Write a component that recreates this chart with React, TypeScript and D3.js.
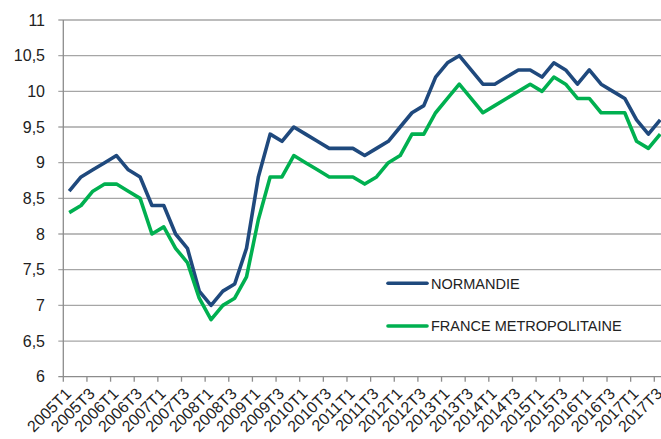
import * as d3 from "d3";

const quarters: string[] = [];
for (let year = 2005; year <= 2017; year++) {
  for (let q = 1; q <= 4; q++) {
    if (year === 2017 && q > 3) break;
    quarters.push(`${year}T${q}`);
  }
}

const normandie = [
  8.6, 8.8, 8.9, 9.0, 9.1, 8.9, 8.8, 8.4, 8.4, 8.0, 7.8, 7.2, 7.0, 7.2, 7.3, 7.8,
  8.8, 9.4, 9.3, 9.5, 9.4, 9.3, 9.2, 9.2, 9.2, 9.1, 9.2, 9.3, 9.5, 9.7, 9.8, 10.2,
  10.4, 10.5, 10.3, 10.1, 10.1, 10.2, 10.3, 10.3, 10.2, 10.4, 10.3, 10.1, 10.3, 10.1, 10.0, 9.9,
  9.6, 9.4, 9.6
];

const franceMetro = [
  8.3, 8.4, 8.6, 8.7, 8.7, 8.6, 8.5, 8.0, 8.1, 7.8, 7.6, 7.1, 6.8, 7.0, 7.1, 7.4,
  8.2, 8.8, 8.8, 9.1, 9.0, 8.9, 8.8, 8.8, 8.8, 8.7, 8.8, 9.0, 9.1, 9.4, 9.4, 9.7,
  9.9, 10.1, 9.9, 9.7, 9.8, 9.9, 10.0, 10.1, 10.0, 10.2, 10.1, 9.9, 9.9, 9.7, 9.7, 9.7,
  9.3, 9.2, 9.4
];

const yTicks = [6, 6.5, 7, 7.5, 8, 8.5, 9, 9.5, 10, 10.5, 11];

const series = [
  { name: "NORMANDIE", values: normandie, color: "#1f497d" },
  { name: "FRANCE METROPOLITAINE", values: franceMetro, color: "#00b050" }
];

const formatTick = (v: number) => String(v).replace(".", ",");

export default function App() {
  const width = 661;
  const height = 439;
  const left = 63.3;
  const step = 11.82;
  const top = 20;
  const bottom = 376.7;

  const x = d3.scaleBand<string>(quarters, [left, left + step * quarters.length]).padding(0);
  const y = d3.scaleLinear([6, 11], [bottom, top]);
  const cx = (q: string) => (x(q) ?? 0) + x.bandwidth() / 2;

  const line = d3
    .line<number>()
    .x((_, i) => cx(quarters[i]))
    .y((v) => y(v));

  const labelQuarters = quarters.filter((_, i) => i % 2 === 0);

  return (
    <div style={{ position: "absolute", left: 0, top: 0 }}>
      <svg width={width} height={height} style={{ display: "block", fontFamily: "'Liberation Sans', Arial, sans-serif" }}>
        <rect width={width} height={height} fill="#fff" />
        {yTicks.map((t) => (
          <g key={t}>
            {t > 6 && (
              <line x1={left - 5} x2={width} y1={y(t)} y2={y(t)} stroke="#a6a6a6" strokeWidth={1.3} />
            )}
            <text x={45} y={y(t)} dy="0.35em" textAnchor="end" fontSize={16} fill="#222">
              {formatTick(t)}
            </text>
          </g>
        ))}
        <line x1={left} x2={left} y1={top} y2={bottom} stroke="#8c8c8c" strokeWidth={1.3} />
        <line x1={left - 5} x2={width} y1={bottom} y2={bottom} stroke="#8c8c8c" strokeWidth={1.3} />
        {labelQuarters.map((q) => (
          <line key={q} x1={x(q)} x2={x(q)} y1={bottom} y2={bottom + 5} stroke="#8c8c8c" strokeWidth={1.3} />
        ))}
        {labelQuarters.map((q) => (
          <text
            key={q}
            transform={`translate(${cx(q) + 3},${bottom + 18}) rotate(-45)`}
            textAnchor="end"
            fontSize={16}
            fill="#222"
          >
            {q}
          </text>
        ))}
        {series.map((s) => (
          <path
            key={s.name}
            d={line(s.values) ?? undefined}
            fill="none"
            stroke={s.color}
            strokeWidth={3.6}
            strokeLinejoin="round"
          />
        ))}
        {series.map((s, i) => {
          const ly = 283.3 + i * 42.7;
          return (
            <g key={s.name}>
              <line x1={388} x2={427} y1={ly} y2={ly} stroke={s.color} strokeWidth={3.6} strokeLinecap="round" />
              <text x={431} y={ly} dy="0.36em" fontSize={14.5} fill="#222">
                {s.name}
              </text>
            </g>
          );
        })}
      </svg>
    </div>
  );
}
